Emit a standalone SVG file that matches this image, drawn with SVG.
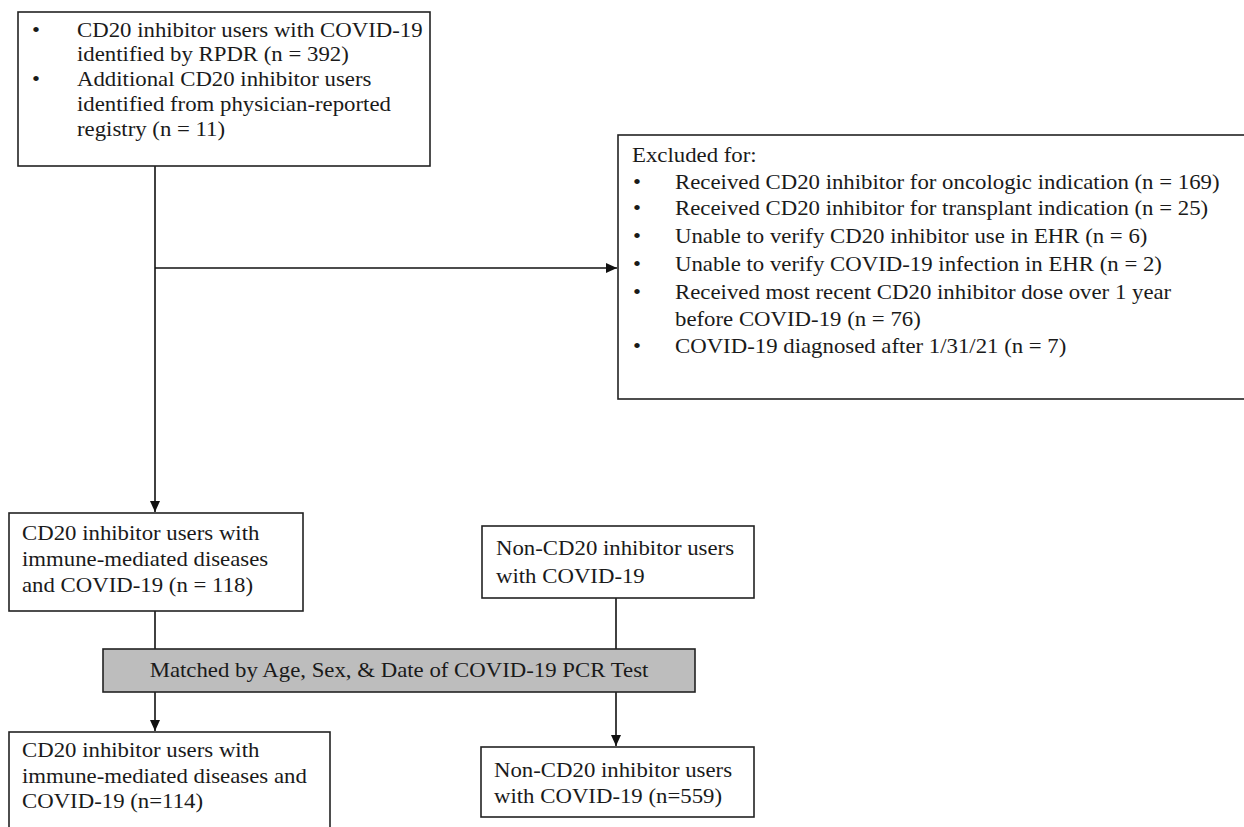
<svg xmlns="http://www.w3.org/2000/svg" width="1244" height="827" viewBox="0 0 1244 827">
<style>
.box{fill:#fff;stroke:#222;stroke-width:1.6}
.gray{fill:#bdbdbd;stroke:#222;stroke-width:1.6}
.t{font-family:"Liberation Serif","Times New Roman",serif;font-size:20px;fill:#1a1a1a}
.ln{fill:none;stroke:#111;stroke-width:1.6}
</style>
<defs>
<marker id="ah" markerUnits="userSpaceOnUse" markerWidth="12" markerHeight="10" refX="11" refY="5" orient="auto">
<path d="M0,0 L11,5 L0,10 Z" fill="#111"/>
</marker>
</defs>
<rect width="1244" height="827" fill="#fff"/>
<g id="connectors">
<line class="ln" x1="155" y1="166" x2="155" y2="512" marker-end="url(#ah)"/>
<line class="ln" x1="155" y1="268" x2="617" y2="268" marker-end="url(#ah)"/>
<line class="ln" x1="155" y1="611" x2="155" y2="649"/>
<line class="ln" x1="616" y1="598" x2="616" y2="649"/>
<line class="ln" x1="155" y1="692" x2="155" y2="731" marker-end="url(#ah)"/>
<line class="ln" x1="616" y1="692" x2="616" y2="746" marker-end="url(#ah)"/>
</g>
<g id="source">
<rect class="box" x="18" y="12" width="412" height="154"/>
<text class="t" transform="translate(32,0) scale(1.14,1)"><tspan x="0" y="37">•</tspan><tspan x="0" y="86">•</tspan></text>
<text class="t" transform="translate(77,0) scale(1.14,1)"><tspan x="0" y="37">CD20 inhibitor users with COVID-19</tspan><tspan x="0" y="61">identified by RPDR (n = 392)</tspan><tspan x="0" y="86">Additional CD20 inhibitor users</tspan><tspan x="0" y="111">identified from physician-reported</tspan><tspan x="0" y="136">registry (n = 11)</tspan></text>
</g>
<g id="excluded">
<rect class="box" x="618" y="135" width="630" height="264"/>
<text class="t" transform="translate(632,0) scale(1.14,1)"><tspan x="0" y="162">Excluded for:</tspan></text>
<text class="t" transform="translate(633,0) scale(1.14,1)"><tspan x="0" y="189">•</tspan><tspan x="0" y="215">•</tspan><tspan x="0" y="243">•</tspan><tspan x="0" y="271">•</tspan><tspan x="0" y="299">•</tspan><tspan x="0" y="353">•</tspan></text>
<text class="t" transform="translate(675,0) scale(1.14,1)"><tspan x="0" y="189">Received CD20 inhibitor for oncologic indication (n = 169)</tspan><tspan x="0" y="215">Received CD20 inhibitor for transplant indication (n = 25)</tspan><tspan x="0" y="243">Unable to verify CD20 inhibitor use in EHR (n = 6)</tspan><tspan x="0" y="271">Unable to verify COVID-19 infection in EHR (n = 2)</tspan><tspan x="0" y="299">Received most recent CD20 inhibitor dose over 1 year</tspan><tspan x="0" y="326">before COVID-19 (n = 76)</tspan><tspan x="0" y="353">COVID-19 diagnosed after 1/31/21 (n = 7)</tspan></text>
</g>
<g id="cd20">
<rect class="box" x="9" y="513" width="294" height="98"/>
<text class="t" transform="translate(22,0) scale(1.14,1)"><tspan x="0" y="540">CD20 inhibitor users with</tspan><tspan x="0" y="566">immune-mediated diseases</tspan><tspan x="0" y="592">and COVID-19 (n = 118)</tspan></text>
</g>
<g id="noncd20">
<rect class="box" x="482" y="526" width="272" height="72"/>
<text class="t" transform="translate(496,0) scale(1.14,1)"><tspan x="0" y="555">Non-CD20 inhibitor users</tspan><tspan x="0" y="583">with COVID-19</tspan></text>
</g>
<g id="matched">
<rect class="gray" x="103" y="649" width="592" height="43"/>
<text class="t" transform="translate(399,0) scale(1.14,1)" text-anchor="middle"><tspan x="0" y="677">Matched by Age, Sex, &amp; Date of COVID-19 PCR Test</tspan></text>
</g>
<g id="cd20matched">
<rect class="box" x="9" y="732" width="321" height="110"/>
<text class="t" transform="translate(22,0) scale(1.14,1)"><tspan x="0" y="757">CD20 inhibitor users with</tspan><tspan x="0" y="783">immune-mediated diseases and</tspan><tspan x="0" y="808">COVID-19 (n=114)</tspan></text>
</g>
<g id="noncd20matched">
<rect class="box" x="481" y="747" width="273" height="70"/>
<text class="t" transform="translate(494,0) scale(1.14,1)"><tspan x="0" y="777">Non-CD20 inhibitor users</tspan><tspan x="0" y="803">with COVID-19 (n=559)</tspan></text>
</g>
</svg>
